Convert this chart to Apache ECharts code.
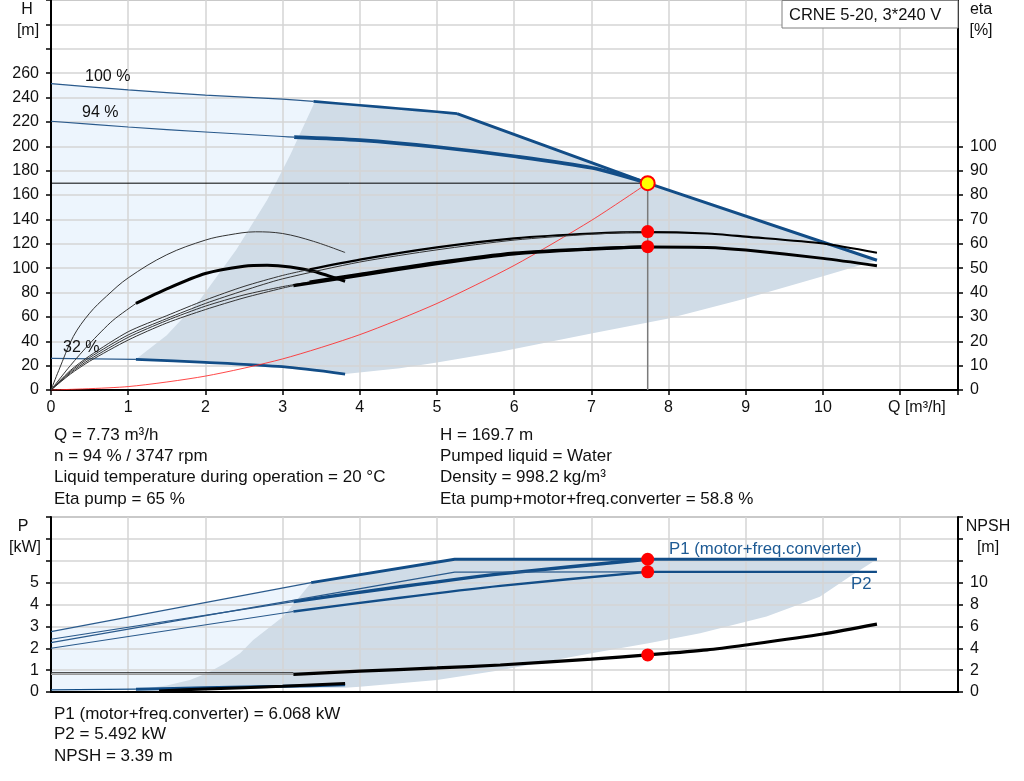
<!DOCTYPE html>
<html><head><meta charset="utf-8">
<script src="https://cdn.jsdelivr.net/npm/echarts@6/dist/echarts.min.js"></script>
<style>html,body{margin:0;padding:0;background:#fff;}#c{width:1024px;height:781px;}</style>
</head><body><div id="c"></div>
<script>
const FONT = '"Liberation Sans", Arial, sans-serif';

// ---------- duty point ----------
const dutyQ = 7.73, dutyH = 169.7, dutyEtaPump = 65, dutyEtaTotal = 58.8;
const dutyP1 = 6.068, dutyP2 = 5.492, dutyNPSH = 3.39;

// ---------- top chart: H [m] ----------
const qh100Thin  = [[0,251.4],[1,246.2],[2,242],[3,238.6],[3.4,236.8]];
const qh100Thick = [[3.4,236.8],[4,233.6],[4.5,231],[5,228.3],[5.26,226.8]];
const qh100Limit = [[5.26,226.8],[7.73,169.7],[10.7,106.5]];
const qh94Thin   = [[0,220.5],[1,215.8],[2,211.7],[3,208],[3.15,207.5]];
const qh94Thick  = [[3.15,207.5],[4,205],[5,199.4],[6,191.8],[7,182.3],[7.73,169.7]];
const qh32Thin   = [[0,26],[1.1,25.2]];
const qh32Thick  = [[1.1,25.2],[2,22.7],[3,19.1],[3.81,13.1]];
const systemCurve = [[0,0],[1,2.8],[2,11.4],[3,25.5],[4,45.4],[5,71],[6,102.2],[7,139.1],[7.73,169.7]];

const lightAreaH = [[0,251.4],[1,246.2],[2,242],[3,238.6],[3.42,236.8],[3.42,17],[3,19.1],[2,22.7],[1.1,25.2],[0,26]];
const operatingAreaH = [[1.1,25.2],[1.5,45],[1.93,74],[2.4,115],[2.8,156],[3.1,193],[3.42,236.8],[4,233.6],[5,228.3],[5.26,226.8],[7.73,169.7],[10.7,106.5],[10.57,104],[10,93.4],[9,75],[8,58.7],[7,46.4],[5.82,31.4],[5,22.5],[4.52,17.8],[3.81,13.1],[3,19.1],[2,22.7]];

// ---------- top chart: eta [%] ----------
const etaPump32 = [[0,0],[0.1,8],[0.29,22],[0.5,31.5],[0.72,38.5],[1,46],[1.5,55.5],[2,61.5],[2.3,63.6],[2.65,64.9],[3,64.2],[3.4,61],[3.81,56.4]];
const etaTotal32Thin  = [[0,0],[0.25,10],[0.5,19],[0.8,28.5],[1.1,35.5]];
const etaTotal32Thick = [[1.1,35.5],[1.5,41.5],[2,47.8],[2.5,50.8],[2.8,51.2],[3.1,50.5],[3.4,48.7],[3.81,44.6]];
const etaPump100Thin  = [[0,0],[0.25,8],[0.5,14],[1,23.9],[1.5,30.5],[2,36.9],[2.5,42.5],[3,47],[3.35,49.5]];
const etaPump100Thick = [[3.35,49.5],[4,53.5],[5,58.5],[6,62.2],[7,64.2],[7.73,64.8],[8.5,64.2],[9,62.9],[10,60.1],[10.7,56.3]];
const etaPump94 = [[0,0],[0.25,7.5],[0.5,13.3],[1,22.6],[1.5,29.3],[2,35.5],[2.5,40.8],[3,45.6],[4,52.5],[5,57.5],[6,61.5],[7,63.9],[7.73,65]];
const etaTotal100Thin  = [[0,0],[0.25,7],[0.5,12.5],[1,21.6],[1.5,28.5],[2,34.4],[2.5,39],[3,42.4],[3.35,44.3]];
const etaTotal100Thick = [[3.35,44.3],[4,47.5],[5,52.3],[6,56.2],[7,58],[7.73,58.7],[8.5,58.5],[9,57.4],[10,54],[10.7,51]];
const etaTotal94Thin  = [[0,0],[0.25,6.5],[0.5,11.8],[1,20.5],[1.5,27.5],[2,33],[2.5,37.8],[3,41.8],[3.14,42.8]];
const etaTotal94Thick = [[3.14,42.8],[4,47],[5,51.8],[6,55.8],[7,57.8],[7.73,58.8]];

// ---------- bottom chart: P [kW] ----------
const p1Max100Thin  = [[0,2.76],[3.37,5.0]];
const p1Max100Thick = [[3.37,5.0],[5.23,6.068],[10.7,6.068]];
const p1At94Thin    = [[0,2.41],[3.14,4.13]];
const p1At94Thick   = [[3.14,4.13],[4.5,4.8],[5.82,5.4],[7.73,6.068]];
const p2Max100Thin  = [[0,2.26],[5.23,5.48],[7.73,5.492]];
const p2Max100Thick = [[7.73,5.492],[10.7,5.492]];
const p2At94Thin    = [[0,2.0],[3.14,3.68]];
const p2At94Thick   = [[3.14,3.68],[4.5,4.3],[5.82,4.85],[7.73,5.492]];
const p32Thin  = [[0,0.1],[1.1,0.13]];
const p32Thick = [[1.1,0.13],[2,0.19],[3,0.26],[3.81,0.33]];

const lightAreaP = [[0,2.76],[3.37,5.0],[3.37,0.2],[1.1,0.13],[0,0.1]];
const operatingAreaP = [[1.1,0.1],[1.5,0.3],[1.8,0.55],[2.02,0.86],[2.25,1.3],[2.45,1.77],[2.62,2.38],[3.01,3.45],[3.37,5.0],[5.23,6.068],[10.7,6.068],[10.35,5.28],[9.96,4.36],[9.27,3.45],[8.41,2.69],[7.74,2.23],[7,1.77],[5.82,1.0],[5,0.55],[4,0.24],[3.81,0.2],[3,0.2],[2,0.15]];

// ---------- bottom chart: NPSH [m] ----------
const npshThinBlack = [[0,1.77],[3.14,1.77]];
const npshThinGray  = [[0,1.62],[3.14,1.62]];
const npshThick = [[3.14,1.62],[4,1.9],[5,2.2],[5.82,2.47],[7,3.0],[7.73,3.39],[8.5,3.85],[9,4.3],[10,5.3],[10.7,6.2]];
const npsh32 = [[1.4,0.1],[2,0.28],[3,0.52],[3.81,0.78]];

// ---------- axis tick labels ----------
const qLabelsMax = 10, hLabelsMax = 260, etaLabelsMax = 100, pLabelsMax = 5, npshLabelsMax = 10;
const etaTickValues = [0,10,20,30,40,50,60,70,80,90,100];

const infoLeft = ['Q = 7.73 m³/h','n = 94 % / 3747 rpm','Liquid temperature during operation = 20 °C','Eta pump = 65 %'];
const infoRight = ['H = 169.7 m','Pumped liquid = Water','Density = 998.2 kg/m³','Eta pump+motor+freq.converter = 58.8 %'];
const infoBottom = ['P1 (motor+freq.converter) = 6.068 kW','P2 = 5.492 kW','NPSH = 3.39 m'];

// ---------- styling helpers ----------
const BLUE = '#124d87', BLACK = '#000', GRID = '#d4d4d4';
function ln(data, xi, yi, color, width, smooth, z) {
  return {type:'line', xAxisIndex:xi, yAxisIndex:yi, data:data, symbol:'none', silent:true,
    smooth: smooth === undefined ? 0.25 : smooth,
    lineStyle:{color:color, width:width}, z: z || 3, animation:false};
}
function area(points, color, xi, yi) {
  return {type:'custom', xAxisIndex:xi, yAxisIndex:yi, z:-1, silent:true, animation:false,
    data: points, encode:{x:0, y:1},
    renderItem: function (params, api) {
      if (params.dataIndex !== 0) return null;
      return {type:'polygon', shape:{points: points.map(function(p){return api.coord(p);})}, style:{fill:color}};
    }};
}
function dot(x, y, xi, yi, size, fill, stroke) {
  return {type:'scatter', xAxisIndex:xi, yAxisIndex:yi, data:[[x,y]], symbol:'circle', symbolSize:size, silent:true, z:10,
    itemStyle:{color:fill, borderColor:stroke || fill, borderWidth: stroke ? 2 : 0, opacity:1}, animation:false};
}
function xAx(gi, labels) {
  return {gridIndex:gi, type:'value', min:0, max:11.75, interval:1,
    axisLine:{onZero:false, lineStyle:{color:'#000', width:2}},
    axisTick:{show:labels, length:5, lineStyle:{color:'#000', width:1.5}},
    axisLabel:{show:labels, margin:10, color:'#111', fontSize:16, fontFamily:FONT, formatter:function(v){return v <= qLabelsMax ? String(v) : '';}},
    splitLine:{show:true, lineStyle:{color:GRID, width:1.5}}};
}
function yAx(gi, max, interval, labMax, pos, split, tickVals) {
  const t = {show:true, length:5, inside:false, lineStyle:{color:'#000', width:1.5}};
  if (tickVals) t.customValues = tickVals;
  return {gridIndex:gi, type:'value', min:0, max:max, interval:interval, position:pos,
    axisLine:{show:true, onZero:false, lineStyle:{color:'#000', width:2}},
    axisTick:t,
    axisLabel:{margin:12, color:'#111', fontSize:16, fontFamily:FONT, formatter:function(v){return v <= labMax ? String(v) : '';}},
    splitLine:{show:split, lineStyle:{color:GRID, width:1.5}}};
}
function txt(s, x, y, opts) {
  opts = opts || {};
  return {type:'text', x:x, y:y, z:20, silent:true,
    style:{text:s, font:(opts.size||16.5)+'px '+FONT, fill:opts.color||'#111', align:opts.align||'left', verticalAlign:'middle', textAlign:opts.align||'left', textVerticalAlign:'middle'}};
}

const graphics = [
  {type:'rect', z:15, silent:true, shape:{x:782, y:0.5, width:176, height:27.5}, style:{fill:'#fff', stroke:'#808080', lineWidth:1}},
  txt('CRNE 5-20, 3*240 V', 789, 15),
  txt('H', 27, 10, {align:'center', size:16}), txt('[m]', 28, 31, {align:'center', size:16}),
  txt('eta', 981, 10, {align:'center', size:16}), txt('[%]', 981, 31, {align:'center', size:16}),
  txt('Q [m³/h]', 888, 408, {size:16}),
  txt('100 %', 85, 77, {size:16}), txt('94 %', 82, 113, {size:16}), txt('32 %', 63, 348, {size:16}),
  txt('P', 23, 527, {align:'center', size:16}), txt('[kW]', 25, 548, {align:'center', size:16}),
  txt('NPSH', 988, 527, {align:'center', size:16}), txt('[m]', 988, 548, {align:'center', size:16}),
  txt('P1 (motor+freq.converter)', 669, 549, {color:'#1d5a94', size:16.8}),
  txt('P2', 851, 584, {color:'#1d5a94', size:16.8})
];
const infoY = [435, 456, 477, 499];
infoLeft.forEach(function(s,i){ graphics.push(txt(s, 54, infoY[i], {size:17})); });
infoRight.forEach(function(s,i){ graphics.push(txt(s, 440, infoY[i], {size:17})); });
const infoBY = [714, 734, 756];
infoBottom.forEach(function(s,i){ graphics.push(txt(s, 54, infoBY[i], {size:17})); });

const series = [
  area(lightAreaH, '#edf5fd', 0, 0),
  area(operatingAreaH, '#d0dce7', 0, 0),
  area(lightAreaP, '#edf5fd', 1, 2),
  area(operatingAreaP, '#d0dce7', 1, 2),

  // duty lines
  ln([[0,dutyH],[dutyQ,dutyH]], 0, 0, '#000', 1, false, 4),
  ln([[dutyQ,0],[dutyQ,dutyH]], 0, 0, '#7a7a7a', 1.5, false, 2),

  // QH curves
  ln(qh100Thin, 0, 0, '#2a5a8c', 1.2),
  ln(qh100Thick, 0, 0, BLUE, 2.6),
  ln(qh100Limit, 0, 0, BLUE, 3, false),
  ln(qh94Thin, 0, 0, '#2a5a8c', 1.2),
  ln(qh94Thick, 0, 0, BLUE, 3.6),
  ln(qh32Thin, 0, 0, '#2a5a8c', 1.2),
  ln(qh32Thick, 0, 0, BLUE, 2.8),
  ln(systemCurve, 0, 0, 'rgba(255,40,40,0.85)', 1),

  // eta curves
  ln(etaPump32, 0, 1, '#333', 1, 0.35),
  ln(etaTotal32Thin, 0, 1, '#333', 1),
  ln(etaTotal32Thick, 0, 1, BLACK, 3),
  ln(etaPump100Thin, 0, 1, '#333', 1),
  ln(etaPump100Thick, 0, 1, BLACK, 2.2),
  ln(etaPump94, 0, 1, '#333', 1),
  ln(etaTotal100Thin, 0, 1, '#333', 1),
  ln(etaTotal100Thick, 0, 1, BLACK, 3),
  ln(etaTotal94Thin, 0, 1, '#333', 1),
  ln(etaTotal94Thick, 0, 1, BLACK, 3.2),

  // power curves
  ln(p1Max100Thin, 1, 2, '#2a5a8c', 1.2, false),
  ln(p1Max100Thick, 1, 2, BLUE, 3, false),
  ln(p1At94Thin, 1, 2, '#2a5a8c', 1.2, false),
  ln(p1At94Thick, 1, 2, BLUE, 3.4),
  ln(p2Max100Thin, 1, 2, '#2a5a8c', 1.2, false),
  ln(p2Max100Thick, 1, 2, BLUE, 2.4, false),
  ln(p2At94Thin, 1, 2, '#2a5a8c', 1.2, false),
  ln(p2At94Thick, 1, 2, BLUE, 2.4),
  ln(p32Thin, 1, 2, BLUE, 1.2, false),
  ln(p32Thick, 1, 2, BLUE, 3),

  // NPSH
  ln(npshThinGray, 1, 3, '#9a9a9a', 1.5, false),
  ln(npshThinBlack, 1, 3, '#333', 1, false),
  ln(npshThick, 1, 3, BLACK, 3.2),
  ln(npsh32, 1, 3, BLACK, 3),

  // markers
  dot(dutyQ, dutyEtaPump, 0, 1, 13, '#ff0000'),
  dot(dutyQ, dutyEtaTotal, 0, 1, 13, '#ff0000'),
  dot(dutyQ, dutyH, 0, 0, 14, '#ffff00', '#ff0000'),
  dot(dutyQ, dutyP1, 1, 2, 13, '#ff0000'),
  dot(dutyQ, dutyP2, 1, 2, 13, '#ff0000'),
  dot(dutyQ, dutyNPSH, 1, 3, 13, '#ff0000')
];

const chart = echarts.init(document.getElementById('c'), null, {renderer:'canvas'});
chart.setOption({
  animation:false,
  backgroundColor:'#fff',
  textStyle:{fontFamily:FONT},
  grid:[
    {left:51, top:0, width:907, height:390, show:true, borderColor:'#a6a6a6', borderWidth:2, backgroundColor:'transparent'},
    {left:51, top:517, width:907, height:175, show:true, borderColor:'#a6a6a6', borderWidth:2, backgroundColor:'transparent'}
  ],
  xAxis:[xAx(0, true), xAx(1, false)],
  yAxis:[
    yAx(0, 320, 20, hLabelsMax, 'left', true),
    yAx(0, 160, 10, etaLabelsMax, 'right', false, etaTickValues),
    yAx(1, 8, 1, pLabelsMax, 'left', true),
    yAx(1, 16, 2, npshLabelsMax, 'right', false)
  ],
  graphic: graphics,
  series: series
});
</script></body></html>
